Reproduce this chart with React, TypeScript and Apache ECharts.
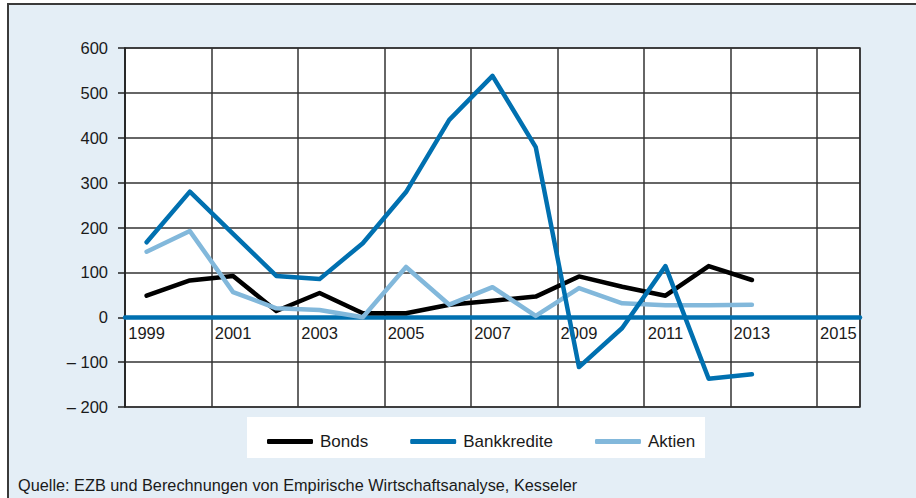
import React, { useEffect, useRef } from "react";
import * as echarts from "echarts";

const years = ["1999","2000","2001","2002","2003","2004","2005","2006","2007","2008","2009","2010","2011","2012","2013","2014","2015"];
const bonds = [48, 82, 92, 14, 54, 9, 9, 28, 37, 46, 91, 68, 48, 114, 83];
const bankkredite = [167, 280, 186, 92, 85, 165, 279, 440, 538, 379, -111, -24, 114, -137, -127];
const aktien = [146, 192, 56, 20, 16, 0, 112, 28, 67, 3, 65, 31, 27, 27, 28];
const yTicks = { min: -200, max: 600, interval: 100 };
const sourceText = "Quelle: EZB und Berechnungen von Empirische Wirtschaftsanalyse, Kesseler";

const FONT = "Liberation Sans, Arial, sans-serif";
const BLUE = "#0070b0";
const LIGHT = "#82b8db";
const GRID = { left: 125, right: 56, top: 48, bottom: 91 };
const H = 498;

export default function App() {
  const ref = useRef<HTMLDivElement>(null);
  useEffect(() => {
    if (!ref.current) return;
    const chart = echarts.init(ref.current, null, { renderer: "svg" });
    const plotH = H - GRID.top - GRID.bottom;
    const zeroOffset = -plotH * (0 - yTicks.min) / (yTicks.max - yTicks.min);
    const lineSeries = (name: string, data: number[], color: string, z: number) => ({
      name,
      type: "line",
      data,
      symbol: "none",
      z,
      lineStyle: { color, width: 4.5, cap: "round", join: "round" },
      itemStyle: { color },
    });
    chart.setOption({
      animation: false,
      backgroundColor: "#ffffff",
      textStyle: { fontFamily: FONT },
      graphic: [
        {
          type: "rect",
          z: -10,
          silent: true,
          shape: { x: 8, y: 4, width: 930, height: 520 },
          style: { fill: "#e4eef6", stroke: "#3a3a3a", lineWidth: 2 },
        },
        {
          type: "rect",
          z: -5,
          silent: true,
          shape: { x: 247, y: 417, width: 458, height: 41 },
          style: { fill: "#ffffff" },
        },
        {
          type: "text",
          left: 18,
          top: 477,
          style: { text: sourceText, font: `16.3px ${FONT}`, fill: "#1a1a1a" },
        },
      ],
      grid: {
        ...GRID,
        show: true,
        backgroundColor: "#ffffff",
        borderColor: "#333333",
        borderWidth: 1.5,
      },
      legend: {
        data: ["Bonds", "Bankkredite", "Aktien"],
        left: 262,
        top: 428,
        icon: "roundRect",
        itemWidth: 46,
        itemHeight: 5,
        itemGap: 42,
        textStyle: { fontSize: 17, color: "#1a1a1a", fontFamily: FONT, padding: [0, 0, 0, 2] },
      },
      xAxis: [
        {
          type: "category",
          data: years,
          boundaryGap: true,
          axisLine: { show: false },
          axisTick: { show: false },
          axisLabel: { show: false },
          splitLine: { show: true, interval: 1, lineStyle: { color: "#333333", width: 1.5 } },
        },
        {
          type: "category",
          data: years,
          position: "bottom",
          offset: zeroOffset,
          boundaryGap: true,
          axisLine: { show: true, onZero: false, lineStyle: { color: BLUE, width: 4.5 } },
          axisTick: { show: false },
          axisLabel: { interval: 1, fontSize: 16.5, color: "#1a1a1a", margin: 7, fontFamily: FONT },
          splitLine: { show: false },
          z: 1,
        },
      ],
      yAxis: {
        type: "value",
        min: yTicks.min,
        max: yTicks.max,
        interval: yTicks.interval,
        axisLine: { show: true, lineStyle: { color: "#222222", width: 1.5 } },
        axisTick: { show: true, inside: false, length: 7, lineStyle: { color: "#222222", width: 1.5 } },
        axisLabel: {
          fontSize: 16.5,
          color: "#1a1a1a",
          margin: 17,
          fontFamily: FONT,
          formatter: (v: number) => (v < 0 ? "\u2013 " + Math.abs(v) : String(v)),
        },
        splitLine: { show: true, lineStyle: { color: "#333333", width: 1.5 } },
      },
      series: [
        lineSeries("Bonds", bonds, "#000000", 2),
        lineSeries("Aktien", aktien, LIGHT, 3),
        lineSeries("Bankkredite", bankkredite, BLUE, 4),
      ],
    });
    return () => chart.dispose();
  }, []);
  return <div ref={ref} style={{ position: "absolute", left: 0, top: 0, width: 916, height: 498 }} />;
}
